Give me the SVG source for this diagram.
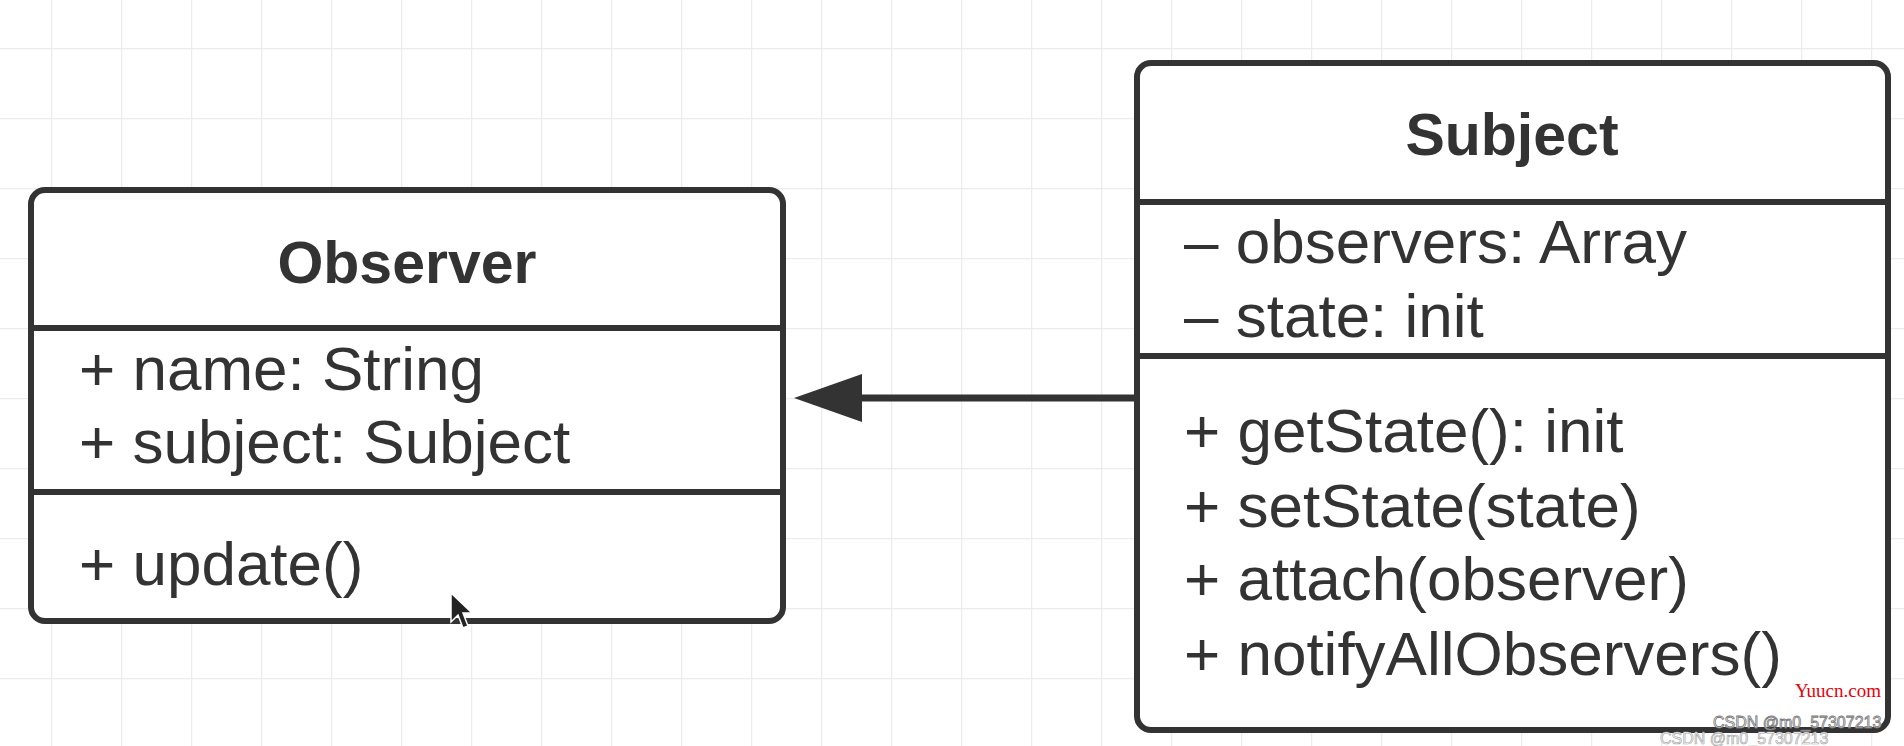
<svg xmlns="http://www.w3.org/2000/svg" width="1904" height="746" viewBox="0 0 1904 746">
<defs>
<pattern id="grid" x="51" y="48" width="70" height="70" patternUnits="userSpaceOnUse">
<path d="M0 0 V70 M0 0 H70" fill="none" stroke="#ececec" stroke-width="2.5"/>
</pattern>
<style>
.box{fill:#fff;stroke:#333;stroke-width:6}
.div{stroke:#333;stroke-width:6}
.title{font-family:"Liberation Sans",Arial,sans-serif;font-weight:bold;font-size:59px;fill:#333;text-anchor:middle}
.item{font-family:"Liberation Sans",Arial,sans-serif;font-size:62px;fill:#333}
.wm{font-family:"Liberation Sans",Arial,sans-serif;font-size:16px;fill:#fff}
</style>
</defs>
<rect width="1904" height="746" fill="#fff"/>
<rect width="1904" height="746" fill="url(#grid)"/>
<g id="connectors">
<line x1="1137" y1="398" x2="862" y2="398" stroke="#333" stroke-width="7"/>
<path d="M794 398 L862 374 L862 422 Z" fill="#333"/>
</g>
<g id="observer">
<rect class="box" x="31" y="190" width="752" height="431" rx="14"/>
<line class="div" x1="31" y1="328" x2="783" y2="328"/>
<line class="div" x1="31" y1="492" x2="783" y2="492"/>
<text class="title" x="407" y="283">Observer</text>
<text class="item" x="79" y="390">+ name: String</text>
<text class="item" x="79" y="463">+ subject: Subject</text>
<text class="item" x="79" y="585">+ update()</text>
</g>
<g id="subject">
<rect class="box" x="1137" y="63" width="751" height="667" rx="14"/>
<line class="div" x1="1137" y1="202" x2="1888" y2="202"/>
<line class="div" x1="1137" y1="356" x2="1888" y2="356"/>
<text class="title" x="1512" y="155">Subject</text>
<text class="item" x="1184" y="263">– observers: Array</text>
<text class="item" x="1184" y="337">– state: init</text>
<text class="item" x="1184" y="452">+ getState(): init</text>
<text class="item" x="1184" y="527">+ setState(state)</text>
<text class="item" x="1184" y="600">+ attach(observer)</text>
<text class="item" x="1184" y="675">+ notifyAllObservers()</text>
</g>
<path d="M451 593 L451 622 L458 615 L463 628 L468 626 L463 613 L472 613 Z" fill="#222" stroke="#fff" stroke-width="1.5"/>
<text x="1795" y="697" font-family="Liberation Serif,serif" font-size="19" fill="#e8000b">Yuucn.com</text>
<text class="wm" x="1713" y="728" stroke="#777" stroke-width="0.8">CSDN @m0_57307213</text>
<text class="wm" x="1660" y="744" font-size="13" stroke="#aaa" stroke-width="0.7">CSDN @m0_57307213</text>
</svg>
